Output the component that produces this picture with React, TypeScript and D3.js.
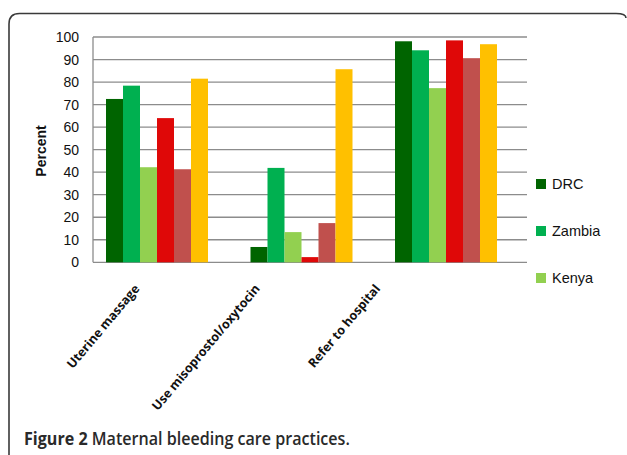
import React from "react";
import * as d3 from "d3";

const categories = ["Uterine massage", "Use misoprostol/oxytocin", "Refer to hospital"];
const seriesNames = ["DRC", "Zambia", "Kenya", "Guatemala", "Pakistan", "India"];
const legendNames = ["DRC", "Zambia", "Kenya"];
const colors = ["#006400", "#00B050", "#92D050", "#DF0808", "#C0504D", "#FFC000"];
const drc = [72.5, 6.8, 98.1];
const zambia = [78.4, 41.9, 94.1];
const kenya = [42.2, 13.4, 77.3];
const guatemala = [64.0, 2.3, 98.5];
const pakistan = [41.3, 17.4, 90.6];
const india = [81.5, 85.7, 96.8];
const yTicks = [0, 10, 20, 30, 40, 50, 60, 70, 80, 90, 100];

const values = [drc, zambia, kenya, guatemala, pakistan, india];

export default function App() {
  const W = 627, H = 455;
  const plotLeft = 93, plotRight = 527, plotTop = 37, plotBottom = 262.3;
  const y = d3.scaleLinear().domain([0, 100]).range([plotBottom, plotTop]);
  const x0 = d3.scaleBand<string>().domain(categories).range([84.75, 518.25]);
  const groupW = 102;
  const x1 = d3.scaleBand<string>().domain(seriesNames).range([-groupW / 2, groupW / 2]);
  const xl = d3.scaleBand<string>().domain(categories).range([79, 440]);
  const legendY = d3.scalePoint<string>().domain(legendNames).range([184, 278]);

  return (
    <svg width={W} height={H} style={{ position: "absolute", left: 0, top: 0 }}>
      <rect x={0} y={0} width={W} height={H} fill="#fff" />
      <path
        d={`M9,${H + 10} L9,24 Q9,13.5 19.5,13.5 L616,13.5 Q626,13.5 626,18`}
        fill="none"
        stroke="#3a3a3a"
        strokeWidth={1.6}
      />
      {yTicks.map((t) => (
        <g key={t}>
          <line x1={plotLeft} x2={plotRight} y1={y(t)} y2={y(t)} stroke="#8c8c8c" strokeWidth={1.3} />
          <text
            x={79}
            y={y(t)}
            dy="0.36em"
            textAnchor="end"
            fontFamily="'Liberation Sans', Arial, sans-serif"
            fontSize={14}
            fill="#111"
          >
            {t}
          </text>
        </g>
      ))}
      <line x1={plotLeft} x2={plotLeft} y1={plotTop} y2={plotBottom} stroke="#8c8c8c" strokeWidth={1.3} />
      <text
        transform={`translate(46,151) rotate(-90)`}
        textAnchor="middle"
        fontFamily="'Liberation Sans', Arial, sans-serif"
        fontWeight="bold"
        fontSize={14}
        fill="#111"
      >
        Percent
      </text>
      {categories.map((c, ci) => (
        <g key={c} transform={`translate(${(x0(c) ?? 0) + x0.bandwidth() / 2},0)`}>
          {seriesNames.map((s, si) => {
            const v = values[si][ci];
            return (
              <rect
                key={s}
                x={x1(s)}
                y={y(v)}
                width={x1.bandwidth()}
                height={y(0) - y(v)}
                fill={colors[si]}
              />
            );
          })}
        </g>
      ))}
      {categories.map((c) => (
        <text
          key={c}
          transform={`translate(${(xl(c) ?? 0) + xl.bandwidth() / 2 + 1},${289}) rotate(-50)`}
          textAnchor="end"
          fontFamily="'Open Sans', sans-serif"
          fontWeight={700}
          fontSize={12.5}
          fill="#111"
        >
          {c}
        </text>
      ))}
      {legendNames.map((n, i) => (
        <g key={n} transform={`translate(536,${legendY(n)})`}>
          <rect x={0} y={-5} width={10} height={10} fill={colors[i]} />
          <text
            x={16}
            y={0}
            dy="0.36em"
            fontFamily="'Liberation Sans', Arial, sans-serif"
            fontSize={14.5}
            fill="#111"
          >
            {n}
          </text>
        </g>
      ))}
      <g transform="translate(24,445) scale(0.87,1)">
        <text x={0} y={0} fontFamily="'Open Sans', sans-serif" fontSize={18.5} fill="#2a2a2a">
          <tspan fontWeight={700}>Figure 2</tspan>
          <tspan fontWeight={600}> Maternal bleeding care practices.</tspan>
        </text>
      </g>
    </svg>
  );
}
